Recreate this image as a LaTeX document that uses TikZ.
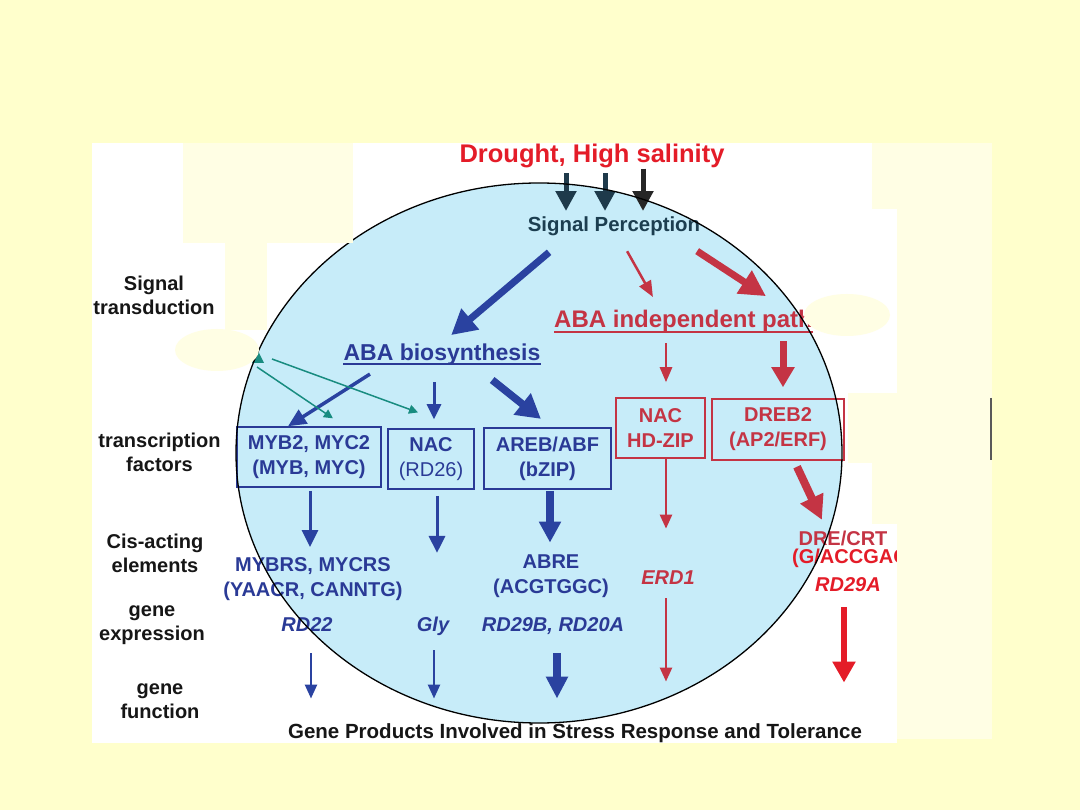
\documentclass[tikz,border=0pt]{standalone}
\usepackage{fontspec}
\setmainfont{Liberation Sans}
\usetikzlibrary{arrows.meta}
\definecolor{bgY}{RGB}{255,255,204}
\definecolor{paleY}{RGB}{255,254,228}
\definecolor{circB}{RGB}{199,236,249}
\definecolor{blueT}{RGB}{42,58,150}
\definecolor{blueA}{RGB}{42,66,160}
\definecolor{tealA}{RGB}{24,140,128}
\definecolor{redM}{RGB}{196,52,68}
\definecolor{redB}{RGB}{228,28,40}
\definecolor{percC}{RGB}{28,62,80}
\definecolor{darkA}{RGB}{30,58,75}
\definecolor{lblC}{RGB}{22,22,22}
\begin{document}
\begin{tikzpicture}[x=1pt,y=-1pt,
  txt/.style={inner sep=0pt, font=\fontsize{20}{24}\selectfont\bfseries},
  lbl/.style={txt, align=center, text=lblC},
  bluebox/.style={draw=blueT, line width=1.5pt, inner sep=0pt, align=center, text=blueT, font=\fontsize{20}{25}\selectfont\bfseries},
  redbox/.style={draw=redM, line width=1.5pt, inner sep=0pt, align=center, text=redM, font=\fontsize{20}{25}\selectfont\bfseries},
  gene/.style={txt, font=\fontsize{20}{24}\selectfont\bfseries\itshape},
  arr/.style args={#1/#2/#3}{line width=#1pt, -{Triangle[width=#2pt,length=#3pt]}},
  pale/.style={fill=paleY, draw=none}
]
\useasboundingbox (0,0) rectangle (1080,810);
% background and white panel
\fill[bgY] (0,0) rectangle (1080,810);
\fill[white] (92,143) rectangle (897,743);
% big cell
\fill[circB] (539,453) ellipse [x radius=303, y radius=270];

% titles
\node[txt, anchor=base, text=redB, font=\fontsize{25.5}{30}\selectfont\bfseries] (drought) at (592,163) {Drought, High salinity};
\node[txt, anchor=base, text=percC, font=\fontsize{20.4}{24}\selectfont\bfseries] (perc) at (614,232) {Signal Perception};
\node[txt, anchor=base, text=blueT, font=\fontsize{23}{27}\selectfont\bfseries] (abab) at (442,361) {ABA biosynthesis};
\node[txt, anchor=base west, text=redM, font=\fontsize{24}{28}\selectfont\bfseries] (abai) at (554,328) {ABA independent path};
\draw[blueT, line width=2pt] ([yshift=-3.5pt]abab.base west) -- ([yshift=-3.5pt]abab.base east);
\draw[redM, line width=2pt] ([yshift=-4pt]abai.base west) -- ([yshift=-4pt]abai.base east);

% left labels
\node[lbl] (sigtr) at (154,295.5) {Signal\\transduction};
\node[lbl] (tf) at (159.5,452) {transcription\\factors};
\node[lbl] (cis) at (155,553) {Cis-acting\\elements};
\node[lbl] (gexp) at (152,625) {gene\\expression};
\node[lbl] (gfunc) at (160,701) {gene\\function};

% transcription factor boxes
\node[bluebox, minimum width=144pt, minimum height=60pt] (myb) at (309,457) {MYB2, MYC2\\(MYB, MYC)};
\node[bluebox, minimum width=86pt, minimum height=60pt] (nacb) at (431,459) {NAC\\{\mdseries (RD26)}};
\node[bluebox, minimum width=127pt, minimum height=61pt] (areb) at (547.5,458.5) {AREB/ABF\\(bZIP)};
\node[redbox, minimum width=89pt, minimum height=60pt] (nachd) at (660.5,428) {NAC\\HD-ZIP};
\node[redbox, minimum width=132pt, minimum height=61pt] (dreb) at (778,429.5) {DREB2\\(AP2/ERF)};

% cis-acting elements
\node[txt, align=center, text=blueT, font=\fontsize{20}{25}\selectfont\bfseries] (mybrs) at (313,579.5) {MYBRS, MYCRS\\(YAACR, CANNTG)};
\node[txt, align=center, text=blueT, font=\fontsize{20}{24.5}\selectfont\bfseries] (abre) at (551,576) {ABRE\\(ACGTGGC)};
\node[txt, anchor=base, text=redM] (dre) at (843,545) {DRE/CRT};
\node[txt, anchor=base west, text=redB] (dreseq) at (792,563) {(G/ACCGAC};

% gene expression
\node[gene, anchor=base, text=blueT] (rd22) at (307,631) {RD22};
\node[gene, anchor=base, text=blueT] (gly) at (433,631) {Gly};
\node[gene, anchor=base, text=blueT] (rd29b) at (553,631) {RD29B, RD20A};
\node[gene, anchor=base, text=redM] (erd) at (668,584) {ERD1};
\node[gene, anchor=base, text=redB] (rd29a) at (848,591) {RD29A};

% gene function
\node[txt, anchor=base, text=lblC, font=\fontsize{20.5}{24}\selectfont\bfseries] (gp) at (575,738) {Gene Products Involved in Stress Response and Tolerance};

% stress input arrows
\draw[arr=5/20/20, darkA, shorten <=4.6pt, shorten >=6pt] (drought.south -| 566,0) -- (perc.north -| 566,0);
\draw[arr=5/20/20, darkA, shorten <=4.6pt, shorten >=6pt] (drought.south -| 605,0) -- (perc.north -| 605,0);
\draw[arr=5/20/20, black!85, shorten >=6pt] (drought.south -| 643,0) -- (perc.north -| 643,0);

% perception to pathways
\draw[arr=7/26/25, blueA, shorten <=24.4pt, shorten >=14pt] (perc.south -| 567.7,0) -- (abab.north -| 440.5,0);
\draw[arr=2.5/13/16, redM, shorten <=16.9pt, shorten >=15.4pt] (perc.south -| 618.8,0) -- (abai.north -| 660.5,0);
\draw[arr=7/26/26, redM, shorten <=26.7pt, shorten >=26pt] (perc.south -| 674.8,0) -- (abai.north -| 787.7,0);

% ABA-dependent branch
\draw[arr=3.5/16/18, blueA, shorten <=15.1pt] (abab.south -| 382.7,0) -- (myb.north -| 288,0);
\draw[arr=3/14/15, blueA, shorten <=16.2pt, shorten >=9pt] (abab.south -| 434,0) -- (nacb.north -| 434,0);
\draw[arr=7.5/26/24, blueA, shorten <=22.5pt, shorten >=13.4pt] (abab.south -| 474.6,0) -- (areb.north -| 551.4,0);

% ABA-independent branch
\draw[arr=2.5/12/15, redM, shorten <=10.2pt, shorten >=15pt] (abai.south -| 666,0) -- (nachd.north -| 666,0);
\draw[arr=7/22/20, redM, shorten <=8.2pt, shorten >=11pt] (abai.south -| 783,0) -- (dreb.north -| 783,0);

% teal signalling arrows
\coordinate (ts1) at (257,367);
\coordinate (ts2) at (272,359);
\fill[tealA] (252,363) -- (264,363) -- (258,351) -- cycle;
\draw[arr=1.5/9/9, tealA, shorten >=14.2pt] (ts1) -- (myb.north -| 344.7,0);
\draw[arr=1.5/9/9, tealA, shorten >=46.1pt] (ts2) -- (nacb.north -| 461.3,0);

% to cis-acting elements
\draw[arr=3/16/17, blueA, shorten <=3pt, shorten >=10.7pt] (myb.south -| 310,0) -- (mybrs.north -| 310,0);
\draw[arr=3/16/17, blueA, shorten <=6pt, shorten >=63.4pt] (nacb.south -| 437,0) -- (gly.north -| 437,0);
\draw[arr=8/21/21, blueA, shorten <=1pt, shorten >=12pt] (areb.south -| 550,0) -- (abre.north -| 550,0);
\draw[arr=2.5/12/14, redM, shorten >=41.4pt] (nachd.south -| 666,0) -- (erd.north -| 666,0);
\draw[arr=8/24/24, redM, shorten <=6.6pt, shorten >=11.5pt] (dreb.south -| 794.2,0) -- (dre.north -| 826.8,0);

% to gene function
\draw[arr=2.5/12/14, blueA, shorten <=22pt, shorten >=24.4pt] (rd22.south -| 311,0) -- (gp.north -| 311,0);
\draw[arr=2.5/12/14, blueA, shorten <=14.8pt, shorten >=24.4pt] (gly.south -| 434,0) -- (gp.north -| 434,0);
\draw[arr=8/21/22, blueA, shorten <=19pt, shorten >=24.4pt] (rd29b.south -| 557,0) -- (gp.north -| 557,0);
\draw[arr=2.5/12/14, redM, shorten <=14pt, shorten >=41.4pt] (erd.south -| 666,0) -- (gp.north -| 666,0);
\draw[arr=5.5/22/21, redB, shorten <=16pt, shorten >=40.4pt] (rd29a.south -| 844,0) -- (gp.north -| 844,0);

% cell outline
\draw[black, line width=1.3pt] (539,453) ellipse [x radius=303, y radius=270];

% pale patches on top
\fill[paleY] (872,143) rectangle (992,209);
\fill[paleY] (897,209) rectangle (992,739);
\fill[paleY] (848,393) rectangle (897,463);
\fill[paleY] (872,463) rectangle (897,524);
\fill[paleY] (183,143) rectangle (353,243);
\fill[paleY] (225,243) rectangle (267,330);
\fill[paleY] (217,350) ellipse [x radius=42, y radius=21];
\fill[paleY] (847,315) ellipse [x radius=43, y radius=21];
\draw[black!65, line width=1.5pt] (991,398) -- (991,460);
\end{tikzpicture}
\end{document}
